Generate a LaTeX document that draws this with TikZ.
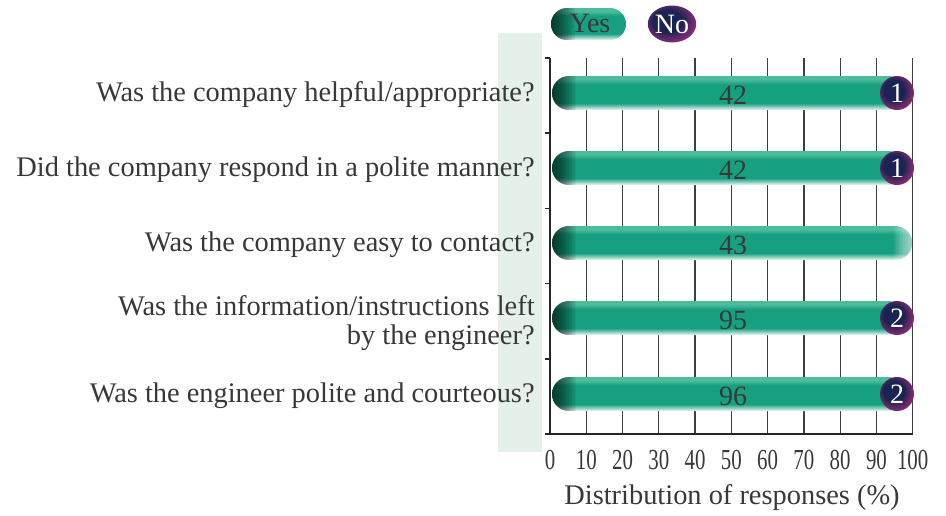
\documentclass[tikz,border=0pt]{standalone}
\usepackage{fontspec}
\setmainfont{Liberation Serif}
\newfontfamily\tickfont[FakeStretch=0.72]{Liberation Serif}
\usetikzlibrary{shapes.geometric}

\definecolor{yesgreen}{HTML}{17A07F}
\definecolor{yeslight}{HTML}{4CBC9D}
\definecolor{nonavy}{HTML}{1B2352}
\definecolor{nomagenta}{HTML}{B5307E}
\definecolor{panelgreen}{HTML}{E6F0EA}
\definecolor{txtgray}{HTML}{383838}

% path box = 25bp..75bp of the shading
\pgfdeclareverticalshading{yesbar}{100bp}{color(0bp)=(yesgreen!5); color(25bp)=(yesgreen!5); color(29bp)=(yesgreen!45); color(35bp)=(yesgreen); color(63bp)=(yesgreen); color(70bp)=(yeslight); color(75bp)=(yeslight); color(100bp)=(yeslight)}
\pgfdeclareradialshading{noball}{\pgfpoint{-7bp}{6bp}}{color(0bp)=(nonavy); color(15bp)=(nonavy); color(25bp)=(nomagenta!55!nonavy); color(31bp)=(nomagenta); color(40bp)=(nomagenta!50!white); color(50bp)=(white)}

\begin{document}
\begin{tikzpicture}[x=0.5pt, y=-0.5pt,
  every node/.style={text=txtgray, font=\fontsize{14.2}{14.5}\selectfont},
  question/.style={anchor=east, align=right, inner sep=0pt},
  value/.style={font=\fontsize{14}{16}\selectfont},
  tick/.style={font=\fontsize{14.5}{16}\tickfont},
  capshade/.style={fill=black, opacity=.055},
  endshade/.style={fill=white, opacity=.07},
  nodot/.style={circle, inner sep=0pt, minimum size=17pt, shading=noball, text=white,
    font=\fontsize{14}{16}\selectfont},
  gridline/.style={gray!50!black, line width=0.6pt},
  axisline/.style={black!85, line width=0.8pt}]
  \useasboundingbox (0,0) rectangle (946,515);

  % pale band behind the axis
  \fill[panelgreen] (498,33) rectangle (542,452);

  % grid and axes
  \foreach \i in {0,...,10}
    \draw[gridline] ({550+36.27*\i},58) -- ({550+36.27*\i},434);
  \draw[axisline] (550,58) -- (550,434) -- (913,434);
  \foreach \y in {58,133.2,208.4,283.6,358.8,434}
    \draw[axisline] (545,\y) -- (550,\y);
  \foreach \v [count=\i from 0] in {0,10,...,100}
    \node[tick] (t\v) at ({550+36.27*\i},460) {\v};
  \node (xlab) at (732,498) {Distribution of responses (\%)};

  % legend
  \begin{scope}
    \clip[rounded corners=8pt] (551,8) rectangle (626,40);
    \shade[shading=yesbar] (551,8) rectangle (626,40);
    \foreach \k in {1,...,16}
      \fill[capshade] (551,8) rectangle ({551+1.5*\k},40);
  \end{scope}
  \node[value] (legyes) at (590,23) {Yes};
  \node[ellipse, inner sep=0pt, minimum width=21.5pt, minimum height=18.5pt,
    shading=noball, text=white, font=\fontsize{14}{16}\selectfont] (legno) at (672,24) {No};

  % yes bars (centre y / right end)
  \foreach \yc/\xe in {93/905,168/905,243/912,318/905,394/905} {
    \begin{scope}
      \clip[rounded corners=8.5pt] (552,\yc-17) rectangle (\xe,\yc+17);
      \shade[shading=yesbar] (552,\yc-17) rectangle (\xe,\yc+17);
      \foreach \k in {1,...,16}
        \fill[capshade] (552,\yc-17) rectangle ({552+1.5*\k},\yc+17);
    \end{scope}
  }
  \begin{scope}
    \clip[rounded corners=8.5pt] (552,226) rectangle (912,260);
    \foreach \k in {1,...,12}
      \fill[endshade] ({912-1.5*\k},226) rectangle (912,260);
  \end{scope}

  \node[value] (v1) at (733,95) {42};
  \node[nodot] (n1) at (897,93) {1};
  \node[value] (v2) at (733,170) {42};
  \node[nodot] (n2) at (897,168) {1};
  \node[value] (v3) at (733,245) {43};
  \node[value] (v4) at (733,320) {95};
  \node[nodot] (n4) at (897,318) {2};
  \node[value] (v5) at (733,396) {96};
  \node[nodot] (n5) at (897,394) {2};

  % questions
  \node[question] (q1) at (535,95) {Was the company helpful/appropriate?};
  \node[question] (q2) at (535,170) {Did the company respond in a polite manner?};
  \node[question] (q3) at (535,245) {Was the company easy to contact?};
  \node[question] (q4) at (535,323) {Was the information/instructions left\\by the engineer?};
  \node[question] (q5) at (535,396) {Was the engineer polite and courteous?};
\end{tikzpicture}
\end{document}
